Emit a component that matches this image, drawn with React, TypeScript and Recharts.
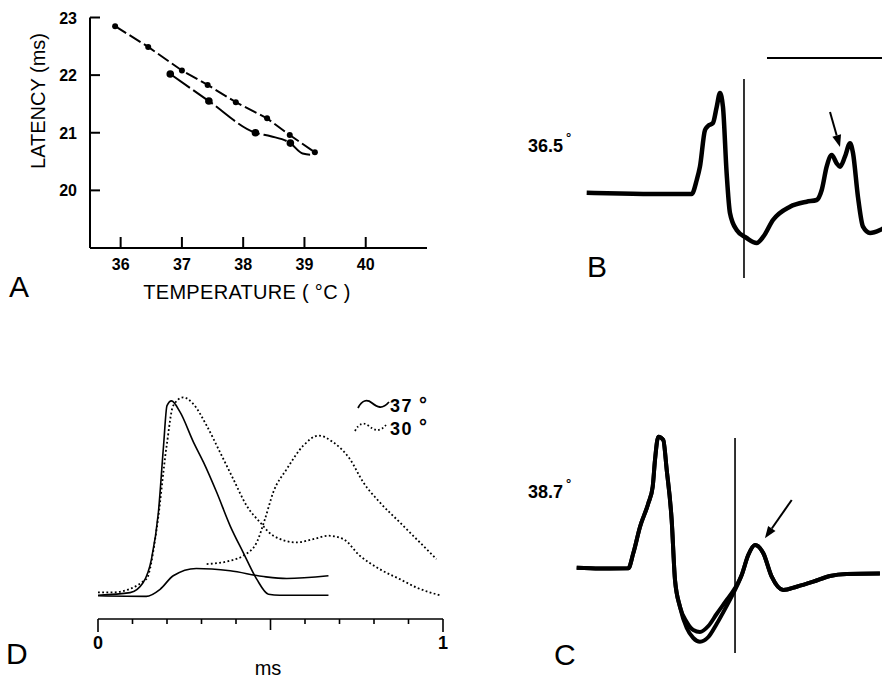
import React from "react";
import { ComposedChart, LineChart, Line, Scatter, XAxis, YAxis, ReferenceLine } from "recharts";

const FONT = '"Liberation Sans", Arial, Helvetica, sans-serif';

// ---- Panel A: latency vs temperature
const aTicksX = [36, 37, 38, 39, 40];
const aTicksY = [20, 21, 22, 23];
const upperTemp = [35.91, 36.45, 37.0, 37.42, 37.88, 38.39, 38.76, 39.17];
const upperLatency = [22.85, 22.49, 22.08, 21.83, 21.53, 21.25, 20.96, 20.66];
const lowerTemp = [36.81, 37.44, 38.2, 38.45, 38.77, 38.97, 39.11, 39.17];
const lowerLatency = [22.02, 21.55, 21.0, 20.94, 20.82, 20.64, 20.62, 20.66];
const lowerDotTemp = [36.81, 37.44, 38.2, 38.77];
const lowerDotLatency = [22.02, 21.55, 21.0, 20.82];

// ---- Panel B: trace at 36.5°
const bTime = [0.006, 0.296, 0.643, 0.919, 0.963, 0.991, 1.035, 1.061, 1.104, 1.137, 1.165, 1.191, 1.223, 1.252, 1.31, 1.397, 1.484, 1.542, 1.626, 1.774, 1.919, 2.006, 2.05, 2.093, 2.137, 2.18, 2.209, 2.252, 2.296, 2.322, 2.365, 2.409, 2.47, 2.557, 2.59];
const bAmp = [0.013, 0.005, 0, 0, 0.14, 0.273, 0.64, 0.68, 0.71, 0.873, 1.01, 0.873, 0.21, -0.19, -0.36, -0.44, -0.49, -0.427, -0.26, -0.127, -0.077, -0.06, 0.04, 0.273, 0.39, 0.307, 0.273, 0.373, 0.507, 0.41, -0.027, -0.327, -0.39, -0.36, -0.34];

// ---- Panel C: two traces at 38.7°
const cTime = [0.006, 0.209, 0.455, 0.498, 0.557, 0.629, 0.667, 0.687, 0.716, 0.759, 0.789, 0.832, 0.861, 0.904, 0.963, 1.02, 1.078, 1.151, 1.223, 1.31, 1.383, 1.441, 1.498, 1.557, 1.629, 1.702, 1.803, 1.919, 2.063, 2.209, 2.354, 2.643];
const cUpper = [0.003, -0.005, -0.003, 0.147, 0.413, 0.647, 0.813, 1.08, 1.313, 1.28, 0.98, 0.48, -0.12, -0.387, -0.54, -0.62, -0.64, -0.58, -0.46, -0.32, -0.2, -0.07, 0.13, 0.23, 0.147, -0.087, -0.22, -0.187, -0.137, -0.08, -0.06, -0.055];
const cLower = [0.003, -0.005, -0.003, 0.147, 0.413, 0.647, 0.813, 1.08, 1.313, 1.28, 0.98, 0.48, -0.12, -0.387, -0.6, -0.7, -0.737, -0.69, -0.56, -0.38, -0.22, -0.07, 0.13, 0.23, 0.147, -0.087, -0.22, -0.187, -0.137, -0.08, -0.06, -0.055];

// ---- Panel D: waveforms over 1 ms
const dTicks = [0, 0.1, 0.2, 0.3, 0.4, 0.5, 0.6, 0.7, 0.8, 0.9, 1];
const solid1T = [0, 0.093, 0.131, 0.155, 0.175, 0.19, 0.2, 0.213, 0.238, 0.277, 0.306, 0.344, 0.383, 0.421, 0.46, 0.494, 0.527, 0.668];
const solid1A = [0, 0.013, 0.064, 0.182, 0.417, 0.754, 0.956, 0.98, 0.923, 0.771, 0.67, 0.519, 0.35, 0.215, 0.081, 0.005, 0, 0];
const solid2T = [0, 0.14, 0.18, 0.218, 0.285, 0.383, 0.48, 0.547, 0.668];
const solid2A = [-0.003, -0.006, 0.03, 0.098, 0.135, 0.123, 0.094, 0.084, 0.098];
const dotted1T = [0, 0.043, 0.14, 0.17, 0.199, 0.218, 0.247, 0.276, 0.315, 0.354, 0.392, 0.431, 0.47, 0.508, 0.576, 0.624, 0.668, 0.711, 0.759, 0.817, 0.875, 0.923, 0.99];
const dotted1A = [0.014, 0.014, 0.081, 0.333, 0.754, 0.956, 0.998, 0.965, 0.855, 0.72, 0.586, 0.451, 0.367, 0.3, 0.266, 0.283, 0.3, 0.283, 0.199, 0.131, 0.081, 0.039, 0];
const dotted2T = [0.315, 0.383, 0.421, 0.46, 0.484, 0.508, 0.547, 0.595, 0.639, 0.682, 0.73, 0.769, 0.817, 0.875, 0.933, 0.981];
const dotted2A = [0.157, 0.174, 0.199, 0.266, 0.384, 0.519, 0.636, 0.754, 0.805, 0.771, 0.687, 0.569, 0.468, 0.367, 0.266, 0.182];

const pairs = (xs: number[], ys: number[], kx: string, ky: string) =>
  xs.map((x, i) => ({ [kx]: x, [ky]: ys[i] }));

const upperData = pairs(upperTemp, upperLatency, "temp", "latency");
const lowerData = pairs(lowerTemp, lowerLatency, "temp", "latency");
const lowerDots = pairs(lowerDotTemp, lowerDotLatency, "temp", "latency");
const bData = pairs(bTime, bAmp, "t", "a");
const cData = cTime.map((t, i) => ({ t, up: cUpper[i], low: cLower[i] }));
const s1 = pairs(solid1T, solid1A, "t", "a");
const s2 = pairs(solid2T, solid2A, "t", "a");
const d1 = pairs(dotted1T, dotted1A, "t", "a");
const d2 = pairs(dotted2T, dotted2A, "t", "a");

function Txt({ x, y, size, bold, anchor = "start", spacing, children }: any) {
  const shift = anchor === "middle" ? "-50%" : anchor === "end" ? "-100%" : "0";
  return (
    <div
      style={{
        position: "absolute",
        left: x,
        top: y - 0.8465 * size,
        fontSize: size,
        lineHeight: 1,
        fontWeight: bold ? 700 : 400,
        whiteSpace: "nowrap",
        letterSpacing: spacing,
        transform: `translateX(${shift})`,
      }}
    >
      {children}
    </div>
  );
}

function Arrow(p: any) {
  const { x1, y1, x2, y2 } = p;
  const dx = x2 - x1;
  const dy = y2 - y1;
  const len = Math.hypot(dx, dy) || 1;
  const ux = dx / len;
  const uy = dy / len;
  const hl = 12;
  const hw = 4.5;
  const bx = x2 - ux * hl;
  const by = y2 - uy * hl;
  return (
    <g>
      <line x1={x1} y1={y1} x2={bx} y2={by} stroke="#000" strokeWidth={2} />
      <polygon
        points={`${x2},${y2} ${bx - uy * hw},${by + ux * hw} ${bx + uy * hw},${by - ux * hw}`}
        fill="#000"
      />
    </g>
  );
}

function ATickX(p: any) {
  const { x, y, payload } = p;
  return (
    <g>
      <line x1={x} y1={y} x2={x} y2={y - 11} stroke="#000" strokeWidth={2} />
      <text x={x} y={y + 22} textAnchor="middle" fontSize={16} fontWeight={700} fontFamily={FONT} fill="#000">
        {payload.value}
      </text>
    </g>
  );
}

function ATickY(p: any) {
  const { x, y, payload } = p;
  return (
    <g>
      <line x1={x} y1={y} x2={x + 10} y2={y} stroke="#000" strokeWidth={2} />
      <text x={x - 13} y={y + 6} textAnchor="end" fontSize={16} fontWeight={700} fontFamily={FONT} fill="#000">
        {payload.value}
      </text>
    </g>
  );
}

function DTick(p: any) {
  const { x, y, payload } = p;
  const v = payload.value;
  const edge = v === 0 || v === 1;
  const len = edge ? 13 : v === 0.5 ? 11 : 5;
  return (
    <g>
      <line x1={x} y1={y} x2={x} y2={y + len} stroke="#000" strokeWidth={1.6} />
      {edge && (
        <text x={x} y={y + 30} textAnchor="middle" fontSize={18} fontWeight={700} fontFamily={FONT} fill="#000">
          {v}
        </text>
      )}
    </g>
  );
}

const dot = (r: number) => (p: any) => <circle cx={p.cx} cy={p.cy} r={r} fill="#000" />;

export default function App() {
  return (
    <div
      style={{
        position: "absolute",
        left: 0,
        top: 0,
        width: 882,
        height: 679,
        overflow: "hidden",
        background: "#fff",
        color: "#000",
        fontFamily: FONT,
      }}
    >
      {/* Panel A */}
      <div style={{ position: "absolute", left: 0, top: 0 }}>
        <ComposedChart width={440} height={310} margin={{ top: 17.5, right: 13, bottom: 32, left: 30 }}>
          <XAxis
            type="number"
            dataKey="temp"
            domain={[35.5, 41]}
            ticks={aTicksX}
            interval={0}
            height={30}
            allowDataOverflow
            axisLine={{ stroke: "#000", strokeWidth: 2 }}
            tickLine={false}
            tickSize={0}
            tickMargin={0}
            tick={ATickX}
          />
          <YAxis
            type="number"
            dataKey="latency"
            domain={[19, 23]}
            ticks={aTicksY}
            interval={0}
            width={60}
            allowDataOverflow
            axisLine={{ stroke: "#000", strokeWidth: 2 }}
            tickLine={false}
            tickSize={0}
            tickMargin={0}
            tick={ATickY}
          />
          <Line data={upperData} dataKey="latency" type="linear" stroke="#000" strokeWidth={2} strokeDasharray="13 4" dot={false} isAnimationActive={false} />
          <Line data={lowerData} dataKey="latency" type="monotone" stroke="#000" strokeWidth={2} strokeDasharray="24 4" dot={false} isAnimationActive={false} />
          <Scatter data={upperData} dataKey="latency" shape={dot(3)} isAnimationActive={false} />
          <Scatter data={lowerDots} dataKey="latency" shape={dot(3.8)} isAnimationActive={false} />
        </ComposedChart>
      </div>
      <div
        style={{
          position: "absolute",
          left: 38,
          top: 101,
          fontSize: 20,
          lineHeight: 1,
          whiteSpace: "nowrap",
          transform: "translate(-50%, -50%) rotate(-90deg)",
        }}
      >
        LATENCY (ms)
      </div>
      <Txt x={247} y={299} size={20} anchor="middle" spacing={0.3}>
        TEMPERATURE ( °C )
      </Txt>
      <Txt x={9} y={297} size={30}>A</Txt>

      {/* Panel B */}
      <div style={{ position: "absolute", left: 586, top: 40 }}>
        <LineChart width={300} height={260} margin={{ top: 0, right: 0, bottom: 0, left: 0 }}>
          <XAxis type="number" dataKey="t" domain={[0, 2.609]} hide allowDataOverflow />
          <YAxis type="number" domain={[-1.06, 1.54]} hide allowDataOverflow />
          <ReferenceLine segment={[{ x: 1.374, y: 1.15 }, { x: 1.374, y: -0.84 }]} stroke="#000" strokeWidth={1.6} />
          <ReferenceLine segment={[{ x: 1.574, y: 1.36 }, { x: 2.6, y: 1.36 }]} stroke="#000" strokeWidth={2} />
          <ReferenceLine segment={[{ x: 2.122, y: 0.82 }, { x: 2.209, y: 0.47 }]} shape={Arrow} />
          <Line data={bData} dataKey="a" type="monotone" stroke="#000" strokeWidth={4.5} strokeLinejoin="round" dot={false} isAnimationActive={false} />
        </LineChart>
      </div>
      <Txt x={528} y={152} size={18} bold>36.5</Txt>
      <Txt x={566} y={142} size={13} bold>°</Txt>
      <Txt x={587} y={277} size={30}>B</Txt>

      {/* Panel C */}
      <div style={{ position: "absolute", left: 576, top: 400 }}>
        <LineChart width={310} height={280} data={cData} margin={{ top: 0, right: 0, bottom: 0, left: 0 }}>
          <XAxis type="number" dataKey="t" domain={[0, 2.696]} hide allowDataOverflow />
          <YAxis type="number" domain={[-1.12, 1.68]} hide allowDataOverflow />
          <ReferenceLine segment={[{ x: 1.383, y: 1.3 }, { x: 1.383, y: -0.85 }]} stroke="#000" strokeWidth={1.6} />
          <ReferenceLine segment={[{ x: 1.876, y: 0.68 }, { x: 1.643, y: 0.297 }]} shape={Arrow} />
          <Line dataKey="up" type="monotone" stroke="#000" strokeWidth={4} dot={false} isAnimationActive={false} />
          <Line dataKey="low" type="monotone" stroke="#000" strokeWidth={4} dot={false} isAnimationActive={false} />
        </LineChart>
      </div>
      <Txt x={528} y={498} size={18} bold>38.7</Txt>
      <Txt x={566} y={488} size={13} bold>°</Txt>
      <Txt x={554} y={665} size={30}>C</Txt>

      {/* Panel D */}
      <div style={{ position: "absolute", left: 0, top: 380 }}>
        <LineChart width={460} height={300} margin={{ top: 7, right: 17, bottom: 31, left: 98 }}>
          <XAxis
            type="number"
            dataKey="t"
            domain={[0, 1]}
            ticks={dTicks}
            interval={0}
            height={30}
            allowDataOverflow
            axisLine={{ stroke: "#000", strokeWidth: 1.6 }}
            tickLine={false}
            tickSize={0}
            tickMargin={0}
            tick={DTick}
          />
          <YAxis type="number" domain={[-0.12, 1.05]} hide allowDataOverflow />
          <Line data={s1} dataKey="a" type="monotone" stroke="#000" strokeWidth={1.6} dot={false} isAnimationActive={false} />
          <Line data={s2} dataKey="a" type="monotone" stroke="#000" strokeWidth={1.6} dot={false} isAnimationActive={false} />
          <Line data={d1} dataKey="a" type="monotone" stroke="#000" strokeWidth={1.8} strokeDasharray="1.8 2.4" dot={false} isAnimationActive={false} />
          <Line data={d2} dataKey="a" type="monotone" stroke="#000" strokeWidth={1.8} strokeDasharray="1.8 2.4" dot={false} isAnimationActive={false} />
        </LineChart>
      </div>
      <svg style={{ position: "absolute", left: 357, top: 398 }} width={34} height={14}>
        <path d="M1,10 C5,2 10,1 15,5 S25,12 32,4" stroke="#000" strokeWidth={1.8} fill="none" />
      </svg>
      <svg style={{ position: "absolute", left: 354, top: 421 }} width={34} height={14}>
        <path d="M1,10 C5,2 10,1 15,5 S25,12 32,4" stroke="#000" strokeWidth={1.8} strokeDasharray="1.6 2.4" fill="none" />
      </svg>
      <Txt x={390} y={412} size={18} bold spacing={1.5}>37</Txt>
      <Txt x={419} y={411} size={20} bold>°</Txt>
      <Txt x={390} y={435} size={18} bold spacing={1.5}>30</Txt>
      <Txt x={419} y={433} size={20} bold>°</Txt>
      <Txt x={268} y={675} size={20} anchor="middle">ms</Txt>
      <Txt x={6} y={664} size={30}>D</Txt>
    </div>
  );
}
